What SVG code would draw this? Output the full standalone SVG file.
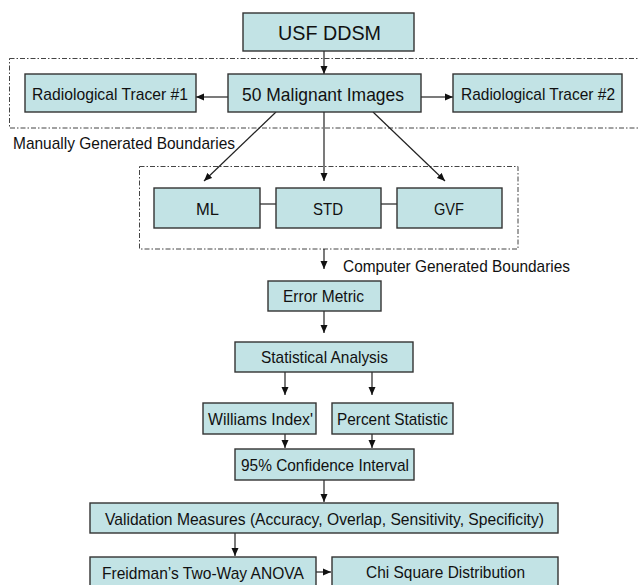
<svg xmlns="http://www.w3.org/2000/svg" width="638" height="585" viewBox="0 0 638 585">
<defs>
<style>
.box{fill:#c2e3e5;stroke:#333;stroke-width:1.4}
.t{font-family:"Liberation Sans",Arial,sans-serif;font-size:17px;fill:#111}
.dash{fill:none;stroke:#444;stroke-width:1;stroke-dasharray:5 2 1.5 2}
.ln{fill:none;stroke:#222;stroke-width:1.2}
.ar{fill:none;stroke:#222;stroke-width:1.2;marker-end:url(#ah)}
</style>
<marker id="ah" markerUnits="userSpaceOnUse" markerWidth="9" markerHeight="8" refX="8" refY="4" orient="auto">
<path d="M0,0.5 L8,4 L0,7.5 z" fill="#111"/>
</marker>
</defs>
<rect width="638" height="585" fill="#fff"/>
<g id="regions">
<rect class="dash" x="9.5" y="58.5" width="640" height="69.5"/>
<rect class="dash" x="139.5" y="166.5" width="378.5" height="82.5"/>
<text class="t" x="13" y="149" textLength="222" lengthAdjust="spacingAndGlyphs">Manually Generated Boundaries</text>
<text class="t" x="343" y="271.5" textLength="227" lengthAdjust="spacingAndGlyphs">Computer Generated Boundaries</text>
</g>
<g id="connectors">
<line class="ar" x1="324" y1="51" x2="324" y2="74"/>
<line class="ar" x1="228" y1="97" x2="196" y2="97"/>
<line class="ar" x1="421" y1="97" x2="453" y2="97"/>
<line class="ar" x1="276" y1="112" x2="204" y2="181"/>
<line class="ar" x1="324" y1="112" x2="324" y2="181"/>
<line class="ar" x1="373" y1="112" x2="445" y2="181"/>
<line class="ln" x1="260" y1="204" x2="276" y2="204"/>
<line class="ln" x1="381" y1="204" x2="397" y2="204"/>
<line class="ar" x1="324" y1="249" x2="324" y2="269"/>
<line class="ar" x1="324" y1="311" x2="324" y2="333"/>
<line class="ar" x1="285" y1="372" x2="285" y2="395"/>
<line class="ar" x1="372" y1="372" x2="372" y2="395"/>
<line class="ar" x1="285" y1="434" x2="285" y2="448"/>
<line class="ar" x1="372" y1="434" x2="372" y2="448"/>
<line class="ar" x1="324" y1="480" x2="324" y2="502"/>
<line class="ar" x1="235" y1="533" x2="235" y2="556"/>
<line class="ar" x1="316" y1="572" x2="331" y2="572"/>
</g>
<g id="usf">
<rect class="box" x="243" y="13" width="171" height="38"/>
<text style="font-family:'Liberation Sans',Arial,sans-serif;font-size:21px;fill:#111" x="278" y="40" textLength="103" lengthAdjust="spacingAndGlyphs">USF DDSM</text>
</g>
<g id="tracer1">
<rect class="box" x="25" y="74" width="171" height="38"/>
<text class="t" x="32" y="100" textLength="156" lengthAdjust="spacingAndGlyphs">Radiological Tracer #1</text>
</g>
<g id="malignant">
<rect class="box" x="228" y="74" width="193" height="38"/>
<text style="font-family:'Liberation Sans',Arial,sans-serif;font-size:19px;fill:#111" x="242" y="101" textLength="162" lengthAdjust="spacingAndGlyphs">50 Malignant Images</text>
</g>
<g id="tracer2">
<rect class="box" x="453" y="74" width="169" height="38"/>
<text class="t" x="461" y="100" textLength="154" lengthAdjust="spacingAndGlyphs">Radiological Tracer #2</text>
</g>
<g id="ml">
<rect class="box" x="154" y="188" width="106" height="40"/>
<text class="t" x="196" y="215" textLength="23" lengthAdjust="spacingAndGlyphs">ML</text>
</g>
<g id="std">
<rect class="box" x="276" y="188" width="105" height="40"/>
<text class="t" x="313" y="215" textLength="30" lengthAdjust="spacingAndGlyphs">STD</text>
</g>
<g id="gvf">
<rect class="box" x="397" y="188" width="105" height="40"/>
<text class="t" x="434" y="215" textLength="30" lengthAdjust="spacingAndGlyphs">GVF</text>
</g>
<g id="error">
<rect class="box" x="268" y="281" width="113" height="30"/>
<text class="t" x="283" y="302" textLength="81" lengthAdjust="spacingAndGlyphs">Error Metric</text>
</g>
<g id="stat">
<rect class="box" x="235" y="342" width="178" height="30"/>
<text class="t" x="261" y="363" textLength="127" lengthAdjust="spacingAndGlyphs">Statistical Analysis</text>
</g>
<g id="williams">
<rect class="box" x="203" y="403" width="113" height="31"/>
<text class="t" x="208" y="425" textLength="105" lengthAdjust="spacingAndGlyphs">Williams Index'</text>
</g>
<g id="percent">
<rect class="box" x="332" y="403" width="121" height="31"/>
<text class="t" x="337" y="425" textLength="111" lengthAdjust="spacingAndGlyphs">Percent Statistic</text>
</g>
<g id="ci">
<rect class="box" x="235" y="449" width="179" height="31"/>
<text class="t" x="241" y="470.5" textLength="168" lengthAdjust="spacingAndGlyphs">95% Confidence Interval</text>
</g>
<g id="validation">
<rect class="box" x="90" y="503" width="468" height="30"/>
<text class="t" x="105" y="524.5" textLength="439" lengthAdjust="spacingAndGlyphs">Validation Measures (Accuracy, Overlap, Sensitivity, Specificity)</text>
</g>
<g id="freidman">
<rect class="box" x="90" y="557" width="226" height="34"/>
<text class="t" x="102" y="578.5" textLength="202" lengthAdjust="spacingAndGlyphs">Freidman’s Two-Way ANOVA</text>
</g>
<g id="chi">
<rect class="box" x="332" y="557" width="226" height="34"/>
<text class="t" x="366" y="578" textLength="159" lengthAdjust="spacingAndGlyphs">Chi Square Distribution</text>
</g>
</svg>
